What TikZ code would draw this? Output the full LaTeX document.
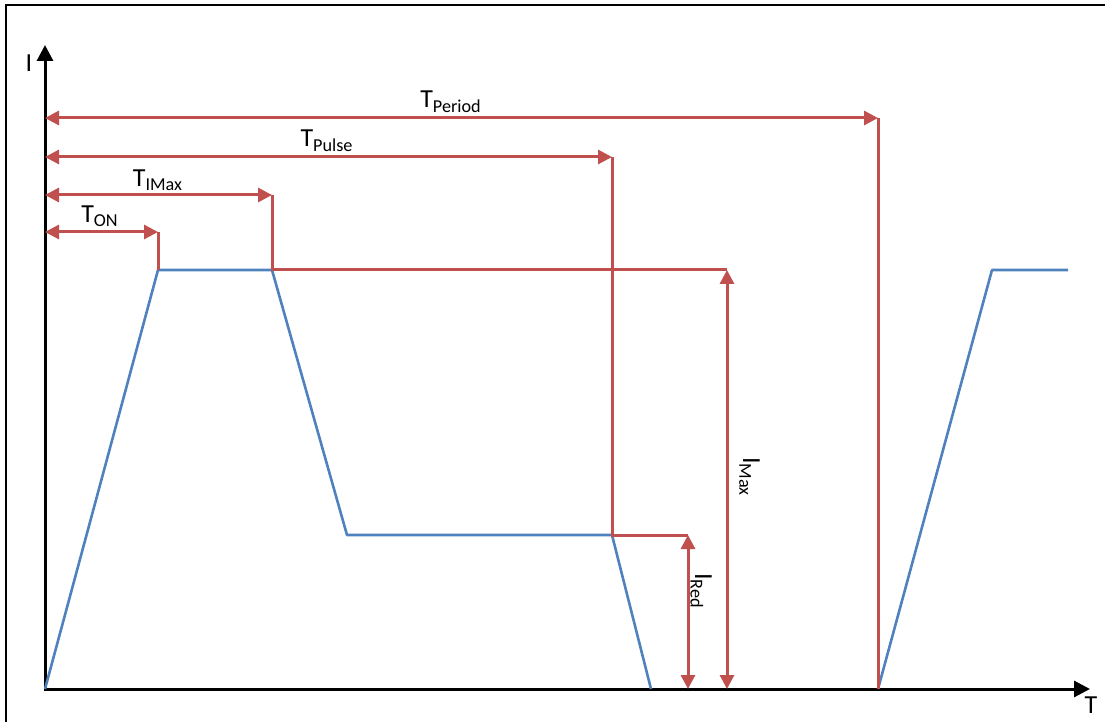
\documentclass[tikz,border=0pt]{standalone}
\usepackage{fontspec}
\setmainfont{Carlito}
\usepackage{tikz}
\usetikzlibrary{arrows.meta}
\definecolor{pulsered}{HTML}{C0504D}
\definecolor{curblue}{HTML}{4F81BD}

\begin{document}
\begin{tikzpicture}[x=0.5pt,y=-0.5pt,
  axis/.style={line width=1.5pt,line join=miter,{Triangle[length=8pt,width=8pt]}-{Triangle[length=8pt,width=8pt]}},
  redline/.style={pulsered,line width=1.5pt},
  dimarrow/.style={redline,{Triangle[length=7pt,width=7pt]}-{Triangle[length=7pt,width=7pt]}},
  blueline/.style={curblue,line width=1.3pt,line join=round},
  lbl/.style={font=\fontsize{13}{15}\selectfont,inner sep=0pt}]
\useasboundingbox (0,0) rectangle (1105,722);
% frame
\draw[line width=1pt] (6,740) -- (6,5) -- (1120,5);

% axes
\coordinate (O) at (45,689);
\coordinate (Itop) at (45,45);
\coordinate (Tend) at (1090,689);
\draw[axis] (Itop) -- (O) -- (Tend);
\node[lbl] (Ilbl) at (29,63) {I};
\node[lbl] (Tlbl) at (1091,705) {T};

% current
\coordinate (b1) at (158,270);
\coordinate (b2) at (272,270);
\coordinate (b3) at (347,535);
\coordinate (b4) at (612,535);
\coordinate (b5) at (651,689);
\coordinate (c0) at (878,689);
\coordinate (c1) at (992,270);
\coordinate (c2) at (1068,270);
\draw[blueline] (O) -- (b1) -- (b2) -- (b3) -- (b4) -- (b5);
\draw[blueline] (c0) -- (c1) -- (c2);

% time marks
\coordinate (onL) at (45,232);  \coordinate (onR) at (158,232);
\coordinate (imL) at (45,195);  \coordinate (imR) at (272,195);
\coordinate (puL) at (45,157);  \coordinate (puR) at (612,157);
\coordinate (peL) at (45,118);  \coordinate (peR) at (878,118);
\draw[dimarrow] (onL) -- (onR);
\draw[dimarrow] (imL) -- (imR);
\draw[dimarrow] (puL) -- (puR);
\draw[dimarrow] (peL) -- (peR);
\node[lbl,anchor=base] (ton) at (100,223) {T\textsubscript{ON}};
\node[lbl,anchor=base] (timax) at (158,187) {T\textsubscript{IMax}};
\node[lbl,anchor=base] (tpulse) at (327,147) {T\textsubscript{Pulse}};
\node[lbl,anchor=base] (tperiod) at (451,108) {T\textsubscript{Period}};

% current marks
\coordinate (maxtop) at (727,270); \coordinate (maxbot) at (727,689);
\coordinate (redtop) at (688,535); \coordinate (redbot) at (688,689);
\draw[redline] (onR) -- (b1);
\draw[redline] (imR) -- (b2) -- (maxtop);
\draw[redline] (puR) -- (b4) -- (redtop);
\draw[redline] (peR) -- (c0);
\draw[dimarrow] (maxtop) -- (maxbot);
\draw[dimarrow] (redtop) -- (redbot);
\node[lbl,anchor=base,rotate=-90] (imax) at (743,477) {I\textsubscript{Max}};
\node[lbl,anchor=base,rotate=-90] (ired) at (695,591) {I\textsubscript{Red}};
\end{tikzpicture}
\end{document}
